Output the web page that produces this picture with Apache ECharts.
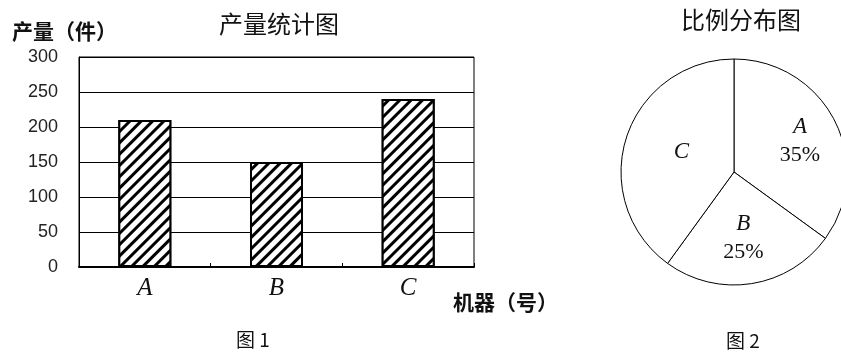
<!DOCTYPE html>
<html><head><meta charset="utf-8">
<script src="https://cdn.jsdelivr.net/npm/echarts@6/dist/echarts.min.js"></script>
<style>html,body{margin:0;padding:0;background:#fff}#c{width:841px;height:356px}</style>
</head><body><div id="c"></div>
<script>
const categories = ['A', 'B', 'C'];
const outputValues = [210, 150, 240];
const yTicks = [0, 50, 100, 150, 200, 250, 300];
const pieNames = ['A', 'B', 'C'];
const pieShares = [35, 25, 40];

const pieLabelPad = {A: [0, 0, 8, 26], B: [14, 0, 0, 0], C: [0, 0, 4, 8]};

const chart = echarts.init(document.getElementById('c'));
const cjk = '"Noto Sans CJK SC", sans-serif';
const serif = '"Liberation Serif", "Times New Roman", serif';
chart.setOption({
  animation: false,
  backgroundColor: '#fff',
  title: [
    {text: '产量统计图', left: 274, top: 7, textAlign: 'center',
     textStyle: {fontFamily: cjk, fontSize: 24, fontWeight: 'normal', color: '#111'}},
    {text: '比例分布图', left: 736, top: 3, textAlign: 'center',
     textStyle: {fontFamily: cjk, fontSize: 24, fontWeight: 'normal', color: '#111'}},
    {text: '图 1', left: 248, top: 325, textAlign: 'center',
     textStyle: {fontFamily: cjk, fontSize: 19, fontWeight: 'normal', color: '#111'}},
    {text: '图 2', left: 738, top: 326, textAlign: 'center',
     textStyle: {fontFamily: cjk, fontSize: 19, fontWeight: 'normal', color: '#111'}}
  ],
  grid: {left: 79, right: 367, top: 57, bottom: 89, show: true,
         borderColor: '#000', borderWidth: 1, backgroundColor: 'transparent'},
  xAxis: {
    type: 'category', data: categories,
    name: '机器（号）', nameLocation: 'end', nameGap: 0,
    nameTextStyle: {fontFamily: cjk, fontSize: 21, fontWeight: 'bold', color: '#111',
                    align: 'left', verticalAlign: 'top', padding: [25, 0, 0, -21]},
    axisLine: {lineStyle: {color: '#000', width: 2}},
    axisTick: {show: true, inside: true, length: 4, lineStyle: {color: '#000'}},
    axisLabel: {fontFamily: serif, fontStyle: 'italic', fontSize: 25, color: '#111', margin: 9},
    splitLine: {show: false}
  },
  yAxis: {
    type: 'value', min: 0, max: 300, interval: 50,
    name: '产量（件）', nameLocation: 'end', nameGap: 15,
    nameTextStyle: {fontFamily: cjk, fontSize: 21, fontWeight: 'bold', color: '#111',
                    align: 'left', padding: [0, 0, 0, -67]},
    axisLine: {show: true, lineStyle: {color: '#000', width: 1}},
    axisTick: {show: false},
    axisLabel: {fontFamily: '"Liberation Sans", Arial, sans-serif', fontSize: 18, color: '#222', margin: 21,
                formatter: v => yTicks.includes(v) ? String(v) : ''},
    splitLine: {show: true, lineStyle: {color: '#000', width: 1}}
  },
  series: [
    {
      type: 'bar', data: outputValues, barWidth: 53,
      itemStyle: {
        color: '#fff', borderColor: '#000', borderWidth: 2,
        decal: {symbol: 'rect', symbolSize: 1, dashArrayX: [1, 0], dashArrayY: [3, 5],
                rotation: -Math.PI / 4, color: '#000', backgroundColor: '#fff'}
      }
    },
    {
      type: 'pie', center: [734, 172], radius: 113, startAngle: 90, clockwise: true,
      itemStyle: {color: '#fff', borderColor: '#000', borderWidth: 1},
      label: {
        position: 'inside', fontFamily: serif, fontSize: 22, color: '#111', lineHeight: 28,
        formatter: p => p.name === 'C' ? '{n|C}' : '{n|' + p.name + '}\n' + p.value + '%',
        rich: {n: {fontFamily: serif, fontStyle: 'italic', fontSize: 23, color: '#111', lineHeight: 28}}
      },
      labelLine: {show: false},
      emphasis: {disabled: true},
      data: pieNames.map((n, i) => ({name: n, value: pieShares[i], label: {padding: pieLabelPad[n]}}))
    }
  ]
});
</script></body></html>
